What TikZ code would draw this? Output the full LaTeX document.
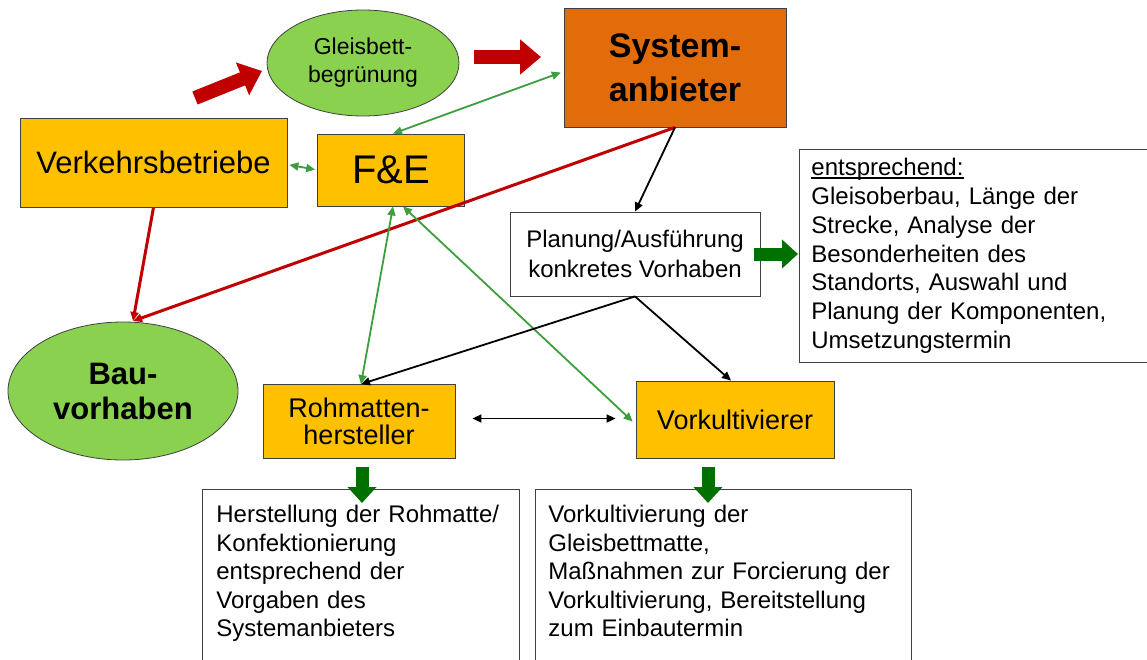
\documentclass[tikz,border=0pt]{standalone}
\usepackage{fontspec}
\setmainfont{Liberation Sans}
\usetikzlibrary{arrows.meta,shapes.geometric,calc}
\definecolor{boxyellow}{HTML}{FFC000}
\definecolor{boxorange}{HTML}{E36C0A}
\definecolor{ellgreen}{HTML}{8AD150}
\definecolor{linegreen}{HTML}{3C9E3C}
\definecolor{darkgreen}{HTML}{007000}
\definecolor{darkred}{HTML}{C00000}
\definecolor{bordergray}{HTML}{404040}
\newcommand{\myunderline}[1]{\setbox0=\hbox{#1}\rlap{\rule[-2.8pt]{\wd0}{1.1pt}}\box0}
\tikzset{
  ybox/.style={draw=bordergray, line width=0.8pt, fill=boxyellow, rectangle, inner sep=0pt, align=center},
  wbox/.style={draw=bordergray, line width=0.8pt, fill=white, rectangle, align=left},
  gell/.style={draw=bordergray, line width=0.8pt, fill=ellgreen, ellipse, inner sep=0pt, align=center},
  tip/.style={-{Triangle[length=9pt,width=8pt]}},
  dtip/.style={{Triangle[length=9pt,width=8pt]}-{Triangle[length=9pt,width=8pt]}},
  gline/.style={linegreen, line width=1.8pt},
  rline/.style={darkred, line width=3pt},
  kline/.style={black, line width=1.8pt},
  redblock/.style={darkred, line width=14pt, -{Triangle[length=21pt,width=34pt]}},
  greenblock/.style={darkgreen, line width=13pt, -{Triangle[length=16pt,width=28pt]}},
}
\begin{document}
\begin{tikzpicture}[x=1pt,y=-1pt]
\useasboundingbox (0,0) rectangle (1147,659);
% nodes
\node[gell, minimum width=192pt, minimum height=106pt, font={\fontsize{23}{28}\selectfont}] (GB) at (363,63) {Gleisbett-\\begrünung};
\node[draw=bordergray, line width=0.8pt, fill=boxorange, rectangle, inner sep=0pt, align=center, minimum width=222pt, minimum height=119pt, font={\fontsize{34}{44}\selectfont\bfseries}] (SA) at (675,67.5) {System-\\anbieter};
\node[ybox, minimum width=267pt, minimum height=89pt, font={\fontsize{31}{36}\selectfont}] (VB) at (153.5,162.5) {Verkehrsbetriebe};
\node[ybox, minimum width=147pt, minimum height=72pt, font={\fontsize{40}{46}\selectfont}] (FE) at (391,170) {F\&E};
\node[draw=bordergray, line width=0.8pt, fill=white, rectangle, inner sep=0pt, align=center, minimum width=250pt, minimum height=84pt, font={\fontsize{24}{30}\selectfont}] (PL) at (635,254) {Planung/Ausführung\\konkretes Vorhaben};
\node[wbox, anchor=north west, inner xsep=12pt, inner ysep=0pt, text width=330pt, minimum height=213pt, font={\fontsize{24}{28.8}\selectfont}] (EN) at (799,149) {\myunderline{entsprechend:}\\Gleisoberbau, Länge der\\Strecke, Analyse der\\Besonderheiten des\\Standorts, Auswahl und\\Planung der Komponenten,\\Umsetzungstermin};
\node[gell, minimum width=230pt, minimum height=138pt, font={\fontsize{31}{35}\selectfont\bfseries}] (BAU) at (123,391) {Bau-\\vorhaben};
\node[ybox, minimum width=192pt, minimum height=74pt, font={\fontsize{27}{27}\selectfont}] (RH) at (359,421.5) {Rohmatten-\\hersteller};
\node[ybox, minimum width=198pt, minimum height=77pt, font={\fontsize{27}{30}\selectfont}] (VK) at (735,419.5) {Vorkultivierer};
\node[wbox, anchor=north west, inner xsep=14pt, inner ysep=16pt, text width=289pt, font={\fontsize{24}{28.5}\selectfont}] (HB) at (202,489) {Herstellung der Rohmatte/\\Konfektionierung\\entsprechend der\\Vorgaben des\\Systemanbieters\\[30pt]\mbox{}};
\node[wbox, anchor=north west, inner xsep=13pt, inner ysep=16pt, text width=350pt, font={\fontsize{24}{28.5}\selectfont}] (VKB) at (535,489) {Vorkultivierung der\\Gleisbettmatte,\\Maßnahmen zur Forcierung der\\Vorkultivierung, Bereitstellung\\zum Einbautermin\\[30pt]\mbox{}};
% block arrows
\coordinate (r1a) at (195,98); \coordinate (r1b) at (262,71);
\coordinate (r2a) at (474,57); \coordinate (r2b) at (541,57);
\coordinate (g1a) at (754,254); \coordinate (g1b) at (798,254);
\coordinate (g2a) at (362,467); \coordinate (g2b) at (362,503);
\coordinate (g3a) at (708,467); \coordinate (g3b) at (708,503);
\draw[redblock] (r1a) -- (r1b);
\draw[redblock] (r2a) -- (r2b);
\draw[greenblock] (g1a) -- (g1b);
\draw[greenblock] (g2a) -- (g2b);
\draw[greenblock] (g3a) -- (g3b);
% connectors
\coordinate (BT) at (133,321);
\draw[gline, dtip, shorten <=3pt] ($(SA.west)+(0,4)$) -- ($(FE.north)+(2,0)$);
\draw[gline, dtip, shorten <=2pt, shorten >=2pt] ($(VB.east)+(0,2)$) -- ($(FE.west)+(0,0)$);
\draw[rline, tip] (SA.south) -- (BT);
\draw[rline, tip] (VB.south) -- (BT);
\draw[kline, tip] (SA.south) -- (PL.north);
\draw[gline, dtip] ($(FE.south)+(2,0)$) -- ($(RH.north)+(2,0)$);
\draw[gline, dtip] ($(FE.south)+(12,0)$) -- ($(VK.west)+(-3,2)$);
\draw[kline, tip] (PL.south) -- ($(RH.north)+(2,0)$);
\draw[kline, tip] (PL.south) -- ($(VK.north)+(-4,0)$);
\draw[kline, dtip] ($(RH.east)+(17,-3)$) -- ($(VK.west)+(-20,-1)$);
\end{tikzpicture}
\end{document}
